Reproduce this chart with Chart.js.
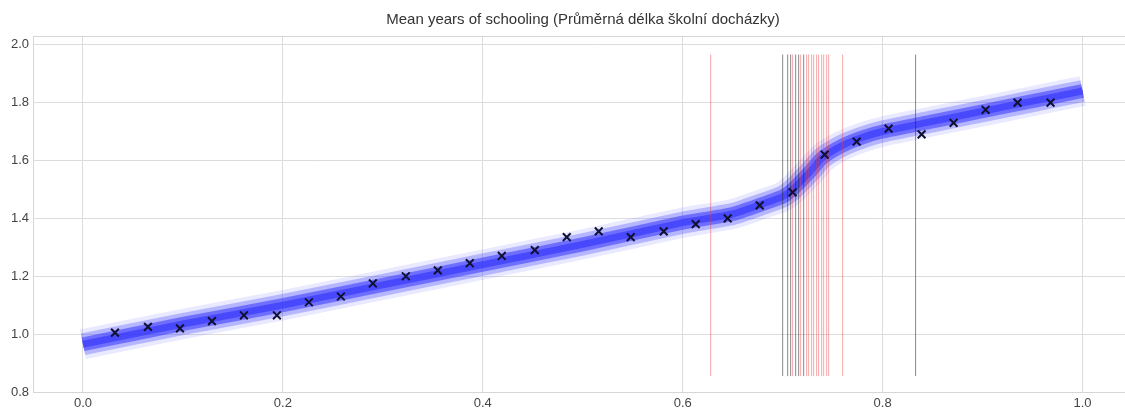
<!DOCTYPE html>
<html>
<head>
<meta charset="utf-8">
<script src="https://cdn.jsdelivr.net/npm/chart.js@4/dist/chart.umd.min.js"></script>
<style>
  body { margin: 0; background: #fff; overflow: hidden; }
  #wrap { width: 1125px; height: 409px; overflow: hidden; }
</style>
</head>
<body>
<div id="wrap"><canvas id="chart" width="1166" height="409"></canvas></div>
<script>
// observed points (x markers)
const obsX = [0.032, 0.065, 0.097, 0.129, 0.161, 0.194, 0.226, 0.258, 0.290, 0.323,
              0.355, 0.387, 0.419, 0.452, 0.484, 0.516, 0.548, 0.581, 0.613, 0.645,
              0.677, 0.710, 0.742, 0.774, 0.806, 0.839, 0.871, 0.903, 0.935, 0.968]
const obsY = [1.005, 1.025, 1.02, 1.045, 1.065, 1.065, 1.11, 1.13, 1.175, 1.20,
              1.22, 1.245, 1.27, 1.29, 1.335, 1.355, 1.335, 1.355, 1.38, 1.40,
              1.445, 1.49, 1.62, 1.665, 1.71, 1.69, 1.73, 1.775, 1.80, 1.80]

// fitted band (centre of the sample cloud)
const bandX = [0.0, 0.1, 0.2, 0.3, 0.4, 0.5, 0.6, 0.65, 0.68, 0.70, 0.71, 0.727, 0.74, 0.76, 0.78, 0.8, 0.85, 0.9, 0.95, 1.0]
const bandY = [0.965, 1.035, 1.10, 1.17, 1.24, 1.31, 1.385, 1.415, 1.45, 1.475, 1.50, 1.56, 1.61, 1.652, 1.68, 1.70, 1.735, 1.77, 1.805, 1.84]

// vertical marker lines
const redLines = [0.628, 0.710, 0.718, 0.724, 0.726, 0.729, 0.731, 0.734, 0.736, 0.739, 0.741, 0.744, 0.746, 0.760]
const blackLines = [0.700, 0.705, 0.708, 0.713, 0.716, 0.721, 0.833]
const lineLow = 0.855
const lineHigh = 1.966

const xTicks = [0.0, 0.2, 0.4, 0.6, 0.8, 1.0]
const yTicks = [0.8, 1.0, 1.2, 1.4, 1.6, 1.8, 2.0]

const band = bandX.map((x, i) => ({ x, y: bandY[i] }))

function bandSet(width, color) {
  return {
    type: "line", data: band, borderColor: color, borderWidth: width,
    pointRadius: 0, tension: 0.2, borderCapStyle: "butt", fill: false, order: 5
  }
}

function vline(x, color) {
  return {
    type: "line", data: [{ x, y: lineLow }, { x, y: lineHigh }],
    borderColor: color, borderWidth: 1, pointRadius: 0, fill: false, order: 3
  }
}

const datasets = [
  bandSet(30, "rgba(120,120,255,0.16)"),
  bandSet(22, "rgba(70,70,255,0.33)"),
  bandSet(14, "rgba(30,30,255,0.55)"),
  bandSet(7, "rgba(0,0,240,0.6)"),
  ...redLines.map(x => vline(x, "rgba(235,60,60,0.45)")),
  ...blackLines.map(x => vline(x, "rgba(40,40,40,0.55)")),
  {
    type: "scatter",
    data: obsX.map((x, i) => ({ x, y: obsY[i] })),
    pointStyle: "crossRot", pointRadius: 5.5, borderColor: "#111133",
    borderWidth: 2, order: 1
  }
]

// light top edge of the plot frame
const frame = {
  id: "frame",
  afterDraw(chart) {
    const { ctx, chartArea: a } = chart
    ctx.save()
    ctx.strokeStyle = "#d6d6d6"
    ctx.lineWidth = 1
    ctx.beginPath()
    ctx.moveTo(a.left, a.top + 0.5)
    ctx.lineTo(a.right, a.top + 0.5)
    ctx.stroke()
    ctx.restore()
  }
}

new Chart(document.getElementById("chart"), {
  type: "scatter",
  data: { datasets },
  plugins: [frame],
  options: {
    responsive: false,
    animation: false,
    plugins: {
      legend: { display: false },
      tooltip: { enabled: false },
      title: {
        display: true,
        text: "Mean years of schooling (Průměrná délka školní docházky)",
        color: "#333",
        font: { family: "Liberation Sans, Arial, sans-serif", size: 15, weight: "normal" },
        padding: { top: 11, bottom: 7 }
      }
    },
    scales: {
      x: {
        type: "linear", min: -0.05, max: 1.076,
        afterBuildTicks: s => { s.ticks = xTicks.map(v => ({ value: v })) },
        afterFit: s => { s.height = 17 },
        grid: { color: "#dcdcdc", drawTicks: false },
        border: { color: "#d6d6d6" },
        ticks: {
          padding: 4, color: "#444",
          font: { family: "Liberation Sans, Arial, sans-serif", size: 13 },
          callback: v => v.toFixed(1)
        }
      },
      y: {
        type: "linear", min: 0.8, max: 2.03,
        afterBuildTicks: s => { s.ticks = yTicks.map(v => ({ value: v })) },
        afterFit: s => { s.width = 33 },
        grid: { color: "#dcdcdc", drawTicks: false },
        border: { color: "#d6d6d6" },
        ticks: {
          padding: 4, color: "#444",
          font: { family: "Liberation Sans, Arial, sans-serif", size: 13 },
          callback: v => v.toFixed(1)
        }
      }
    }
  }
})
</script>
</body>
</html>
